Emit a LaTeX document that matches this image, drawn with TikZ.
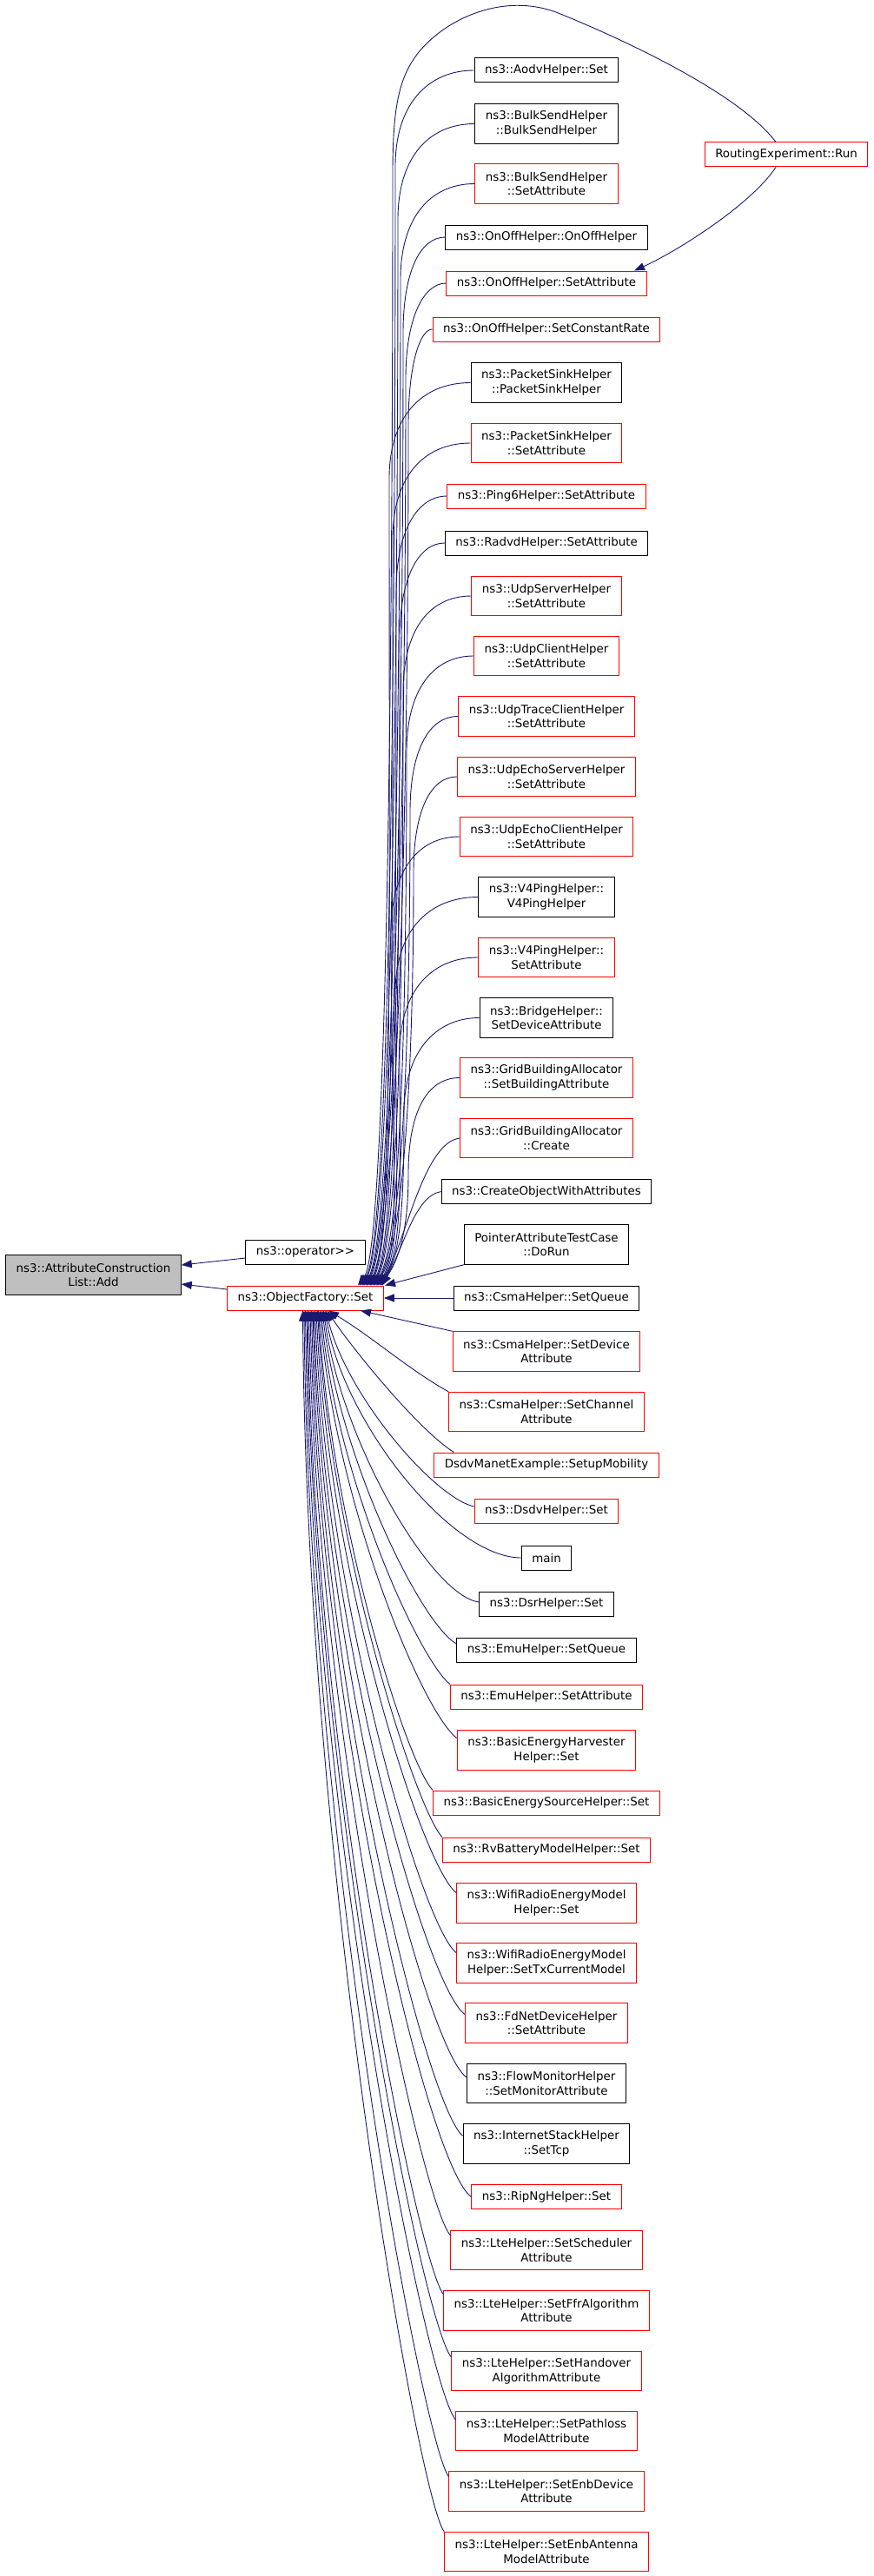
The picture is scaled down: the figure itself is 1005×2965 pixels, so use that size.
\documentclass[tikz,border=0pt]{standalone}
\usepackage{fontspec}
\setmainfont{DejaVu Sans}
\usetikzlibrary{arrows.meta}

\definecolor{edgeblue}{HTML}{191970}
\definecolor{addgray}{HTML}{BFBFBF}
\newcommand{\graphfont}{\fontsize{13.4}{16.7}\selectfont}

\tikzstyle{func} = [rectangle,draw=black,line width=1pt,minimum height=28pt,inner xsep=12pt,inner ysep=2pt,align=center,font=\graphfont]
\tikzstyle{funcred} = [func,draw=red]
\tikzstyle{current} = [func,fill=addgray]
\tikzstyle{two} = [minimum height=45.5pt]
\tikzstyle{call} = [draw=edgeblue,line width=0.9pt,-{Triangle[length=12pt,width=9pt]}]

\begin{document}
\begin{tikzpicture}[x=1pt,y=-1pt]
		\useasboundingbox (0,0) rectangle (1005,2965);

		\node[current,two] (a) at (107.5,1467.5) {ns3::AttributeConstruction\\List::Add};
		\node[func] (op) at (351.5,1441) {ns3::operator{>}{>}};
		\node[funcred] (of) at (351.5,1494) {ns3::ObjectFactory::Set};
		\node[funcred] (rt) at (905,178) {RoutingExperiment::Run};

		\node[func] (n1) at (629,81) {ns3::AodvHelper::Set};
		\node[func,two] (n2) at (629,142.5) {ns3::BulkSendHelper\\::BulkSendHelper};
		\node[funcred,two] (n3) at (629,211.5) {ns3::BulkSendHelper\\::SetAttribute};
		\node[func] (n4) at (629,273) {ns3::OnOffHelper::OnOffHelper};
		\node[funcred] (n5) at (629,326) {ns3::OnOffHelper::SetAttribute};
		\node[funcred] (n6) at (629,379) {ns3::OnOffHelper::SetConstantRate};
		\node[func,two] (n7) at (629,440.5) {ns3::PacketSinkHelper\\::PacketSinkHelper};
		\node[funcred,two] (n8) at (629,510) {ns3::PacketSinkHelper\\::SetAttribute};
		\node[funcred] (n9) at (629,571) {ns3::Ping6Helper::SetAttribute};
		\node[func] (n10) at (629,625) {ns3::RadvdHelper::SetAttribute};
		\node[funcred,two] (n11) at (629,686) {ns3::UdpServerHelper\\::SetAttribute};
		\node[funcred,two] (n12) at (629,755) {ns3::UdpClientHelper\\::SetAttribute};
		\node[funcred,two] (n13) at (629,824.5) {ns3::UdpTraceClientHelper\\::SetAttribute};
		\node[funcred,two] (n14) at (629,894) {ns3::UdpEchoServerHelper\\::SetAttribute};
		\node[funcred,two] (n15) at (629,963) {ns3::UdpEchoClientHelper\\::SetAttribute};
		\node[func,two] (n16) at (629,1032.5) {ns3::V4PingHelper::\\V4PingHelper};
		\node[funcred,two] (n17) at (629,1102) {ns3::V4PingHelper::\\SetAttribute};
		\node[func,two] (n18) at (629,1171.5) {ns3::BridgeHelper::\\SetDeviceAttribute};
		\node[funcred,two] (n19) at (629,1240.5) {ns3::GridBuildingAllocator\\::SetBuildingAttribute};
		\node[funcred,two] (n20) at (629,1310) {ns3::GridBuildingAllocator\\::Create};
		\node[func] (n21) at (629,1371.5) {ns3::CreateObjectWithAttributes};
		\node[func,two] (n22) at (629,1432.5) {PointerAttributeTestCase\\::DoRun};
		\node[func] (n23) at (629,1494) {ns3::CsmaHelper::SetQueue};
		\node[funcred,two] (n24) at (629,1555.5) {ns3::CsmaHelper::SetDevice\\Attribute};
		\node[funcred,two] (n25) at (629,1625) {ns3::CsmaHelper::SetChannel\\Attribute};
		\node[funcred] (n26) at (629,1686) {DsdvManetExample::SetupMobility};
		\node[funcred] (n27) at (629,1739) {ns3::DsdvHelper::Set};
		\node[func] (n28) at (629,1793) {main};
		\node[func] (n29) at (629,1846) {ns3::DsrHelper::Set};
		\node[func] (n30) at (629,1899) {ns3::EmuHelper::SetQueue};
		\node[funcred] (n31) at (629,1953) {ns3::EmuHelper::SetAttribute};
		\node[funcred,two] (n32) at (629,2014.5) {ns3::BasicEnergyHarvester\\Helper::Set};
		\node[funcred] (n33) at (629,2075) {ns3::BasicEnergySourceHelper::Set};
		\node[funcred] (n34) at (629,2129) {ns3::RvBatteryModelHelper::Set};
		\node[funcred,two] (n35) at (629,2190.5) {ns3::WifiRadioEnergyModel\\Helper::Set};
		\node[funcred,two] (n36) at (629,2259.5) {ns3::WifiRadioEnergyModel\\Helper::SetTxCurrentModel};
		\node[funcred,two] (n37) at (629,2328.5) {ns3::FdNetDeviceHelper\\::SetAttribute};
		\node[func,two] (n38) at (629,2398) {ns3::FlowMonitorHelper\\::SetMonitorAttribute};
		\node[func,two] (n39) at (629,2467.5) {ns3::InternetStackHelper\\::SetTcp};
		\node[funcred] (n40) at (629,2528.5) {ns3::RipNgHelper::Set};
		\node[funcred,two] (n41) at (629,2590) {ns3::LteHelper::SetScheduler\\Attribute};
		\node[funcred,two] (n42) at (629,2659.5) {ns3::LteHelper::SetFfrAlgorithm\\Attribute};
		\node[funcred,two] (n43) at (629,2729) {ns3::LteHelper::SetHandover\\AlgorithmAttribute};
		\node[funcred,two] (n44) at (629,2798) {ns3::LteHelper::SetPathloss\\ModelAttribute};
		\node[funcred,two] (n45) at (629,2867.5) {ns3::LteHelper::SetEnbDevice\\Attribute};
		\node[funcred,two] (n46) at (629,2937) {ns3::LteHelper::SetEnbAntenna\\ModelAttribute};

		\draw[call] ([yshift=-7pt]op.west) -- ([yshift=11.5pt]a.east);
		\draw[call] ([yshift=10pt]of.west) -- ([yshift=-10.5pt]a.east);

		\draw[call] ([xshift=-12pt]rt.north) .. controls +(-45,-60) and (700,38) .. (640,14) .. controls (580,-8) and (515,20) .. (482,60) .. controls (460,88) and (452,120) .. (452,200) .. controls (452,900) and (442,1440) .. ([xshift=60.5pt]of.north);
		\draw[call] ([xshift=-12pt]rt.south) .. controls +(-30,45) and +(45,-20) .. ([xshift=101pt]n5.north);

		\draw[call] (n1.west) .. controls +(-54,0) and +(0,-70) .. (455,191) .. controls +(0,750) and +(30,-40) .. ([xshift=62.5pt]of.north);
		\draw[call] (n2.west) .. controls +(-54,0) and +(0,-70) .. (458,252.5) .. controls +(0,712) and +(30,-40) .. ([xshift=63.5pt]of.north);
		\draw[call] (n3.west) .. controls +(-52,0) and +(0,-70) .. (461,321.5) .. controls +(0,671) and +(30,-40) .. ([xshift=65.5pt]of.north);
		\draw[call] (n4.west) .. controls +(-29,0) and +(0,-70) .. (464,383) .. controls +(0,634) and +(30,-40) .. ([xshift=66.5pt]of.north);
		\draw[call] (n5.west) .. controls +(-26,0) and +(0,-70) .. (467,436) .. controls +(0,602) and +(30,-40) .. ([xshift=67.5pt]of.north);
		\draw[call] (n6.west) .. controls +(-14,0) and +(0,-70) .. (470,489) .. controls +(0,571) and +(30,-40) .. ([xshift=69.5pt]of.north);
		\draw[call] (n7.west) .. controls +(-57,0) and +(0,-70) .. (448,550.5) .. controls +(0,534) and +(30,-40) .. ([xshift=70.5pt]of.north);
		\draw[call] (n8.west) .. controls +(-55,0) and +(0,-70) .. (452,620) .. controls +(0,492) and +(30,-40) .. ([xshift=71.5pt]of.north);
		\draw[call] (n9.west) .. controls +(-34,0) and +(0,-70) .. (456,681) .. controls +(0,455) and +(30,-40) .. ([xshift=73.5pt]of.north);
		\draw[call] (n10.west) .. controls +(-30,0) and +(0,-70) .. (460,735) .. controls +(0,423) and +(30,-40) .. ([xshift=74.5pt]of.north);
		\draw[call] (n11.west) .. controls +(-49,0) and +(0,-70) .. (464,796) .. controls +(0,386) and +(30,-40) .. ([xshift=75.5pt]of.north);
		\draw[call] (n12.west) .. controls +(-47,0) and +(0,-70) .. (468,865) .. controls +(0,345) and +(30,-40) .. ([xshift=77.5pt]of.north);
		\draw[call] (n13.west) .. controls +(-34,0) and +(0,-70) .. (472,934.5) .. controls +(0,303) and +(30,-40) .. ([xshift=78.5pt]of.north);
		\draw[call] (n14.west) .. controls +(-31,0) and +(0,-70) .. (476,1004) .. controls +(0,262) and +(30,-40) .. ([xshift=79.5pt]of.north);
		\draw[call] (n15.west) .. controls +(-48,0) and +(0,-70) .. (450,1073) .. controls +(0,220) and +(30,-40) .. ([xshift=81.5pt]of.north);
		\draw[call] (n16.west) .. controls +(-58,0) and +(0,-70) .. (455,1142.5) .. controls +(0,178) and +(30,-40) .. ([xshift=82.5pt]of.north);
		\draw[call] (n17.west) .. controls +(-55,0) and +(0,-70) .. (460,1212) .. controls +(0,137) and +(30,-40) .. ([xshift=83.5pt]of.north);
		\draw[call] (n18.west) .. controls +(-51,0) and +(0,-70) .. (465,1281.5) .. controls +(0,95) and +(25,-35) .. ([xshift=85.5pt]of.north);
		\draw[call] (n19.west) .. controls +(-38,0) and +(0,-70) .. (470,1350.5) .. controls +(0,54) and +(25,-35) .. ([xshift=86.5pt]of.north);
		\draw[call] (n20.west) .. controls +(-40,5) and +(30,-60) .. ([xshift=87.5pt]of.north);
		\draw[call] (n21.west) .. controls +(-30,5) and +(25,-45) .. ([xshift=88.5pt]of.north);
		\draw[call] (n22.south west) -- ([xshift=91.5pt]of.north);
		\draw[call] (n23.west) -- (of.east);

		\draw[call] (n24.north west) -- ([xshift=63.5pt]of.south);
		\draw[call] (n25.north west) .. controls +(-45,-25) and +(50,30) .. ([xshift=26.5pt]of.south);
		\draw[call] ([xshift=23pt]n26.north west) .. controls +(-40,-25) and +(30,45) .. ([xshift=25pt]of.south);
		\draw[call] ([yshift=5pt]n27.west) .. controls +(-45,-10) and +(25,100) .. ([xshift=23.5pt]of.south);
		\draw[call] (n28.west) .. controls +(-80,0) and +(22,130) .. ([xshift=22.5pt]of.south);
		\draw[call] ([yshift=2pt]n29.west) .. controls +(-55,-8) and +(20,150) .. ([xshift=21pt]of.south);
		\draw[call] ([yshift=7pt]n30.west) .. controls +(-40,-22) and +(20,172) .. ([xshift=19.5pt]of.south);
		\draw[call] (n31.north west) .. controls +(-35,-28) and +(18,195) .. ([xshift=18pt]of.south);
		\draw[call] ([yshift=14pt]n32.west) .. controls +(-40,-30) and +(18,220) .. ([xshift=16.5pt]of.south);
		\draw[call] (n33.north west) .. controls +(-30,-30) and +(16,250) .. ([xshift=15pt]of.south);
		\draw[call] (n34.north west) .. controls +(-30,-32) and +(15,272) .. ([xshift=14pt]of.south);
		\draw[call] ([yshift=12pt]n35.west) .. controls +(-40,-32) and +(14,300) .. ([xshift=12.5pt]of.south);
		\draw[call] ([yshift=12pt]n36.west) .. controls +(-40,-32) and +(13,330) .. ([xshift=11pt]of.south);
		\draw[call] ([yshift=10pt]n37.west) .. controls +(-45,-32) and +(12,365) .. ([xshift=9.5pt]of.south);
		\draw[call] ([yshift=7pt]n38.west) .. controls +(-45,-30) and +(11,397) .. ([xshift=8.5pt]of.south);
		\draw[call] ([yshift=9pt]n39.west) .. controls +(-42,-35) and +(10,427) .. ([xshift=7pt]of.south);
		\draw[call] (n40.west) .. controls +(-50,-35) and +(10,460) .. ([xshift=5.5pt]of.south);
		\draw[call] ([yshift=17pt]n41.west) .. controls +(-33,-38) and +(9,480) .. ([xshift=4pt]of.south);
		\draw[call] ([yshift=19pt]n42.west) .. controls +(-30,-40) and +(8,510) .. ([xshift=2.5pt]of.south);
		\draw[call] ([yshift=16pt]n43.west) .. controls +(-33,-40) and +(7,542) .. ([xshift=1.5pt]of.south);
		\draw[call] ([yshift=13pt]n44.west) .. controls +(-35,-42) and +(6,575) .. ([xshift=0pt]of.south);
		\draw[call] ([yshift=17pt]n45.west) .. controls +(-30,-42) and +(5,605) .. ([xshift=-1.5pt]of.south);
		\draw[call] (n46.north west) .. controls +(-30,-42) and +(4,633) .. ([xshift=-3pt]of.south);
\end{tikzpicture}
\end{document}
